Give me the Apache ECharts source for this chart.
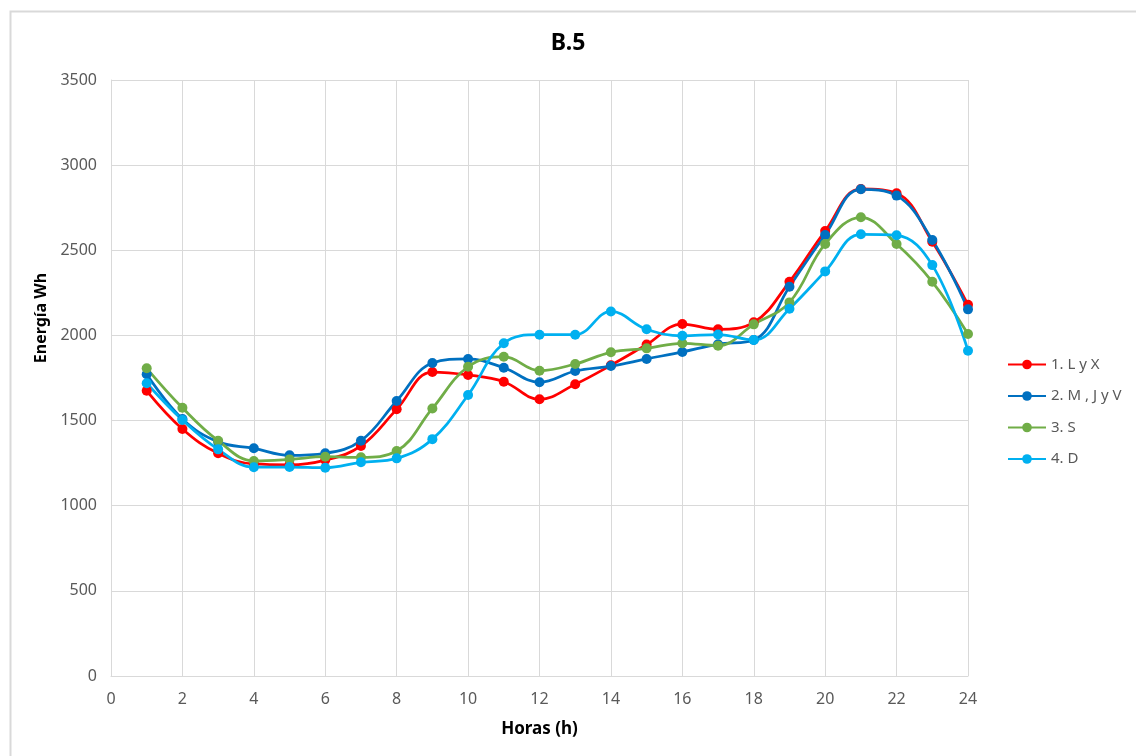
<!DOCTYPE html>
<html>
<head>
<meta charset="utf-8">
<script src="https://cdn.jsdelivr.net/npm/echarts@6/dist/echarts.min.js"></script>
<style>
html,body{margin:0;padding:0;background:#fff;}
#chart{width:1136px;height:756px;}
</style>
</head>
<body>
<div id="chart"></div>
<script>
const hours = [1,2,3,4,5,6,7,8,9,10,11,12,13,14,15,16,17,18,19,20,21,22,23,24];
const seriesNames = ['1. L y X', '2. M , J y V', '3. S', '4. D'];
const serLyX = [1675,1451,1308,1245,1240,1268,1351,1566,1785,1768,1728,1625,1713,1825,1946,2067,2036,2077,2315,2613,2860,2835,2550,2180];
const serMJV = [1772,1509,1375,1337,1296,1308,1382,1615,1838,1862,1810,1725,1791,1820,1862,1903,1948,1973,2286,2590,2858,2821,2560,2153];
const serS   = [1807,1575,1382,1263,1272,1288,1284,1321,1571,1816,1875,1793,1832,1901,1924,1954,1940,2065,2194,2537,2694,2537,2315,2008];
const serD   = [1719,1503,1331,1226,1227,1223,1255,1278,1391,1650,1954,2004,2004,2141,2036,1998,2005,1973,2157,2376,2594,2588,2413,1910];
const colors = ['#FF0000', '#0070C0', '#70AD47', '#00B0F0'];
const allSeries = [serLyX, serMJV, serS, serD];

const font = 'Noto Sans';
const chart = echarts.init(document.getElementById('chart'), null, {renderer: 'canvas'});
chart.setOption({
  animation: false,
  backgroundColor: '#ffffff',
  color: colors,
  graphic: [{
    type: 'rect', left: 8, top: 9, silent: true, z: -10,
    shape: {width: 1140, height: 760},
    style: {fill: 'none', stroke: '#d9d9d9', lineWidth: 2}
  }],
  title: {
    text: 'B.5', left: 'center', top: 32, padding: 0,
    textStyle: {fontFamily: font, fontSize: 23, fontWeight: 'bold', color: '#000'}
  },
  legend: {
    orient: 'vertical', left: 1007, top: 357, padding: 0,
    itemWidth: 38, itemHeight: 12, itemGap: 16.5,
    data: seriesNames,
    textStyle: {fontFamily: font, fontSize: 15, color: '#595959'}
  },
  grid: {left: 111, right: 168, top: 80, bottom: 80, containLabel: false},
  xAxis: {
    type: 'value', min: 0, max: 24, interval: 2,
    name: 'Horas (h)', nameLocation: 'middle', nameGap: 45,
    nameTextStyle: {fontFamily: font, fontSize: 17, fontWeight: 'bold', color: '#000'},
    axisLine: {show: true, lineStyle: {color: '#d9d9d9', width: 1}},
    axisTick: {show: false},
    axisLabel: {fontFamily: font, fontSize: 16, color: '#595959', margin: 15},
    splitLine: {show: true, lineStyle: {color: '#d9d9d9', width: 1}}
  },
  yAxis: {
    type: 'value', min: 0, max: 3500, interval: 500,
    name: 'Energía Wh', nameLocation: 'middle', nameGap: 55,
    nameTextStyle: {fontFamily: font, fontSize: 16, fontWeight: 'bold', color: '#000', padding: [0,0,0,120]},
    axisLine: {show: true, lineStyle: {color: '#d9d9d9', width: 1}},
    axisTick: {show: false},
    axisLabel: {fontFamily: font, fontSize: 16, color: '#595959', margin: 14, formatter: v => String(v)},
    splitLine: {show: true, lineStyle: {color: '#d9d9d9', width: 1}}
  },
  series: allSeries.map((vals, i) => ({
    name: seriesNames[i],
    type: 'line',
    smooth: 0.4,
    symbol: 'circle',
    symbolSize: 10,
    lineStyle: {width: 2.75, color: colors[i]},
    itemStyle: {color: colors[i]},
    data: hours.map((h, j) => [h, vals[j]])
  }))
});
</script>
</body>
</html>
